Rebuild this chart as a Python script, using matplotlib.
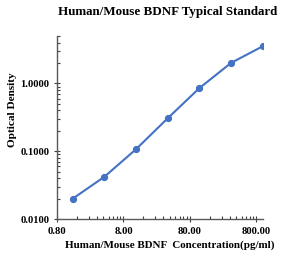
import matplotlib
matplotlib.use("Agg")
import matplotlib.pyplot as plt
from matplotlib.ticker import FixedLocator, LogLocator, NullFormatter, FixedFormatter

conc = [1.37, 4.12, 12.35, 37.04, 111.1, 333.3, 1000.0]
od = [0.0199, 0.0419, 0.107, 0.306, 0.853, 2.01, 3.54]
xticks = [0.8, 8, 80, 800]
xtick_labels = ["0.80", "8.00", "80.00", "800.00"]
yticks = [0.01, 0.1, 1.0]
ytick_labels = ["0.0100", "0.1000", "1.0000"]

plt.rcParams['font.family'] = ['Liberation Serif', 'DejaVu Serif']
plt.rcParams['font.weight'] = 'bold'

fig = plt.figure(figsize=(2.81, 2.56), dpi=100)
ax = fig.add_axes([0.203, 0.1445, 0.733, 0.7145])
ax.plot(conc, od, color='#4472C4', lw=1.5, marker='o', ms=4.2, mfc='#4472C4', mec='#4472C4')
ax.set_xscale('log')
ax.set_yscale('log')
ax.set_xlim(0.8, 1010)
ax.set_ylim(0.01, 5)
ax.xaxis.set_major_locator(FixedLocator(xticks))
ax.xaxis.set_major_formatter(FixedFormatter(xtick_labels))
ax.yaxis.set_major_locator(FixedLocator(yticks))
ax.yaxis.set_major_formatter(FixedFormatter(ytick_labels))
minx = [0.8 * m * 10**d for d in range(0, 4) for m in range(2, 10)]
ax.xaxis.set_minor_locator(FixedLocator([v for v in minx if v < 1010]))
ax.yaxis.set_minor_locator(LogLocator(base=10, subs=range(2, 10)))
ax.xaxis.set_minor_formatter(NullFormatter())
ax.yaxis.set_minor_formatter(NullFormatter())
for s in ['top', 'right']:
    ax.spines[s].set_visible(False)
for s in ['left', 'bottom']:
    ax.spines[s].set_color('#595959')
    ax.spines[s].set_linewidth(1.0)
ax.tick_params(which='major', direction='inout', length=5, width=0.8, color='#404040', labelsize=7.6, pad=3)
ax.tick_params(which='minor', direction='in', length=2.5, width=0.8, color='#404040')
for lab in ax.get_xticklabels() + ax.get_yticklabels():
    lab.set_fontweight('bold')

fig.text(0.598, 0.955, "Human/Mouse BDNF Typical Standard", ha='center', va='center', fontsize=9.4, fontweight='bold')
fig.text(0.603, 0.043, "Human/Mouse BDNF  Concentration(pg/ml)", ha='center', va='center', fontsize=7.9, fontweight='bold')
fig.text(0.043, 0.57, "Optical Density", ha='center', va='center', rotation=90, fontsize=8.1, fontweight='bold')

fig.savefig("out.png", dpi=100)
